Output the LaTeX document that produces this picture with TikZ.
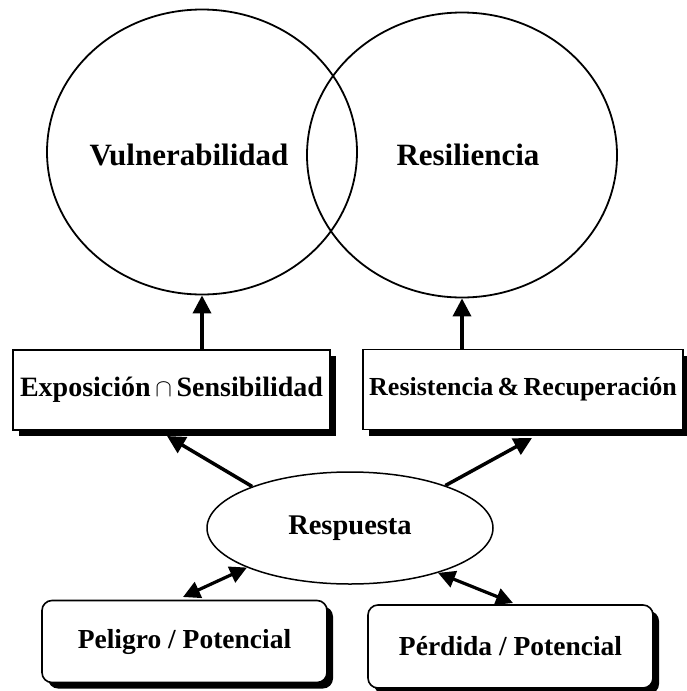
\documentclass[tikz,border=0pt]{standalone}
\usepackage{fontspec}
\setmainfont{Liberation Serif}
\usetikzlibrary{shapes.geometric,shadows,arrows.meta}

\tikzset{
  ring/.style={draw, ellipse, line width=1.8pt, minimum width=310pt, minimum height=285pt},
  ringtext/.style={font=\fontsize{31}{36}\selectfont\bfseries},
  factor/.style={draw, fill=white, line width=1.6pt, minimum width=317pt, minimum height=80pt,
    font=\fontsize{28}{32}\selectfont\bfseries,
    drop shadow={shadow xshift=6pt, shadow yshift=-6pt, opacity=1, fill=black}},
  source/.style={factor, rounded corners=10pt, minimum width=285pt, minimum height=82pt,
    font=\fontsize{27.5}{32}\selectfont\bfseries},
  hub/.style={draw, ellipse, fill=white, line width=1.5pt, minimum width=286pt, minimum height=112pt,
    font=\fontsize{28.5}{32}\selectfont\bfseries},
  link/.style={line width=3.5pt, -{Triangle[width=18pt,length=18pt]}},
  duallink/.style={line width=3.2pt, {Triangle[width=17pt,length=17pt]}-{Triangle[width=17pt,length=17pt]}}
}

\begin{document}
\begin{tikzpicture}[x=1pt, y=-1pt]
\useasboundingbox (0,0) rectangle (686,691);

% the two overlapping rings
\node[ring] (vul) at (202,152) {};
\node[ring] (res) at (462,155) {};
\node[ringtext] (vultext) at (189,155) {Vulnerabilidad};
\node[ringtext] (restext) at (468,155) {Resiliencia};

% factor boxes
\node[factor] (expo) at (171.5,390) {Exposición\,$\cap$\,Sensibilidad};
\node[factor, minimum width=320pt, font=\fontsize{26}{32}\selectfont\bfseries]
  (resis) at (523,389.5) {Resistencia\,\&\,Recuperación};

\draw[link] (expo.north -| vul.south) -- (vul.south);
\draw[link] (resis.north -| res.south) -- (res.south);

% response and its sources
\node[hub] (resp) at (350,528) {Respuesta};
\node[source] (peligro) at (184.5,641.5) {Peligro / Potencial};
\node[source, minimum height=83pt] (perdida) at (510.5,646.5) {Pérdida / Potencial};

\coordinate (expotip) at (167,436);
\coordinate (resistip) at (532,438);
\coordinate (peligrotip) at (183,597);
\coordinate (perdidatip) at (513,603);

\draw[link] (resp.157) -- (expotip);
\draw[link] (resp.24) -- (resistip);
\draw[duallink] (resp.201) -- (peligrotip);
\draw[duallink] (resp.333) -- (perdidatip);
\end{tikzpicture}
\end{document}
